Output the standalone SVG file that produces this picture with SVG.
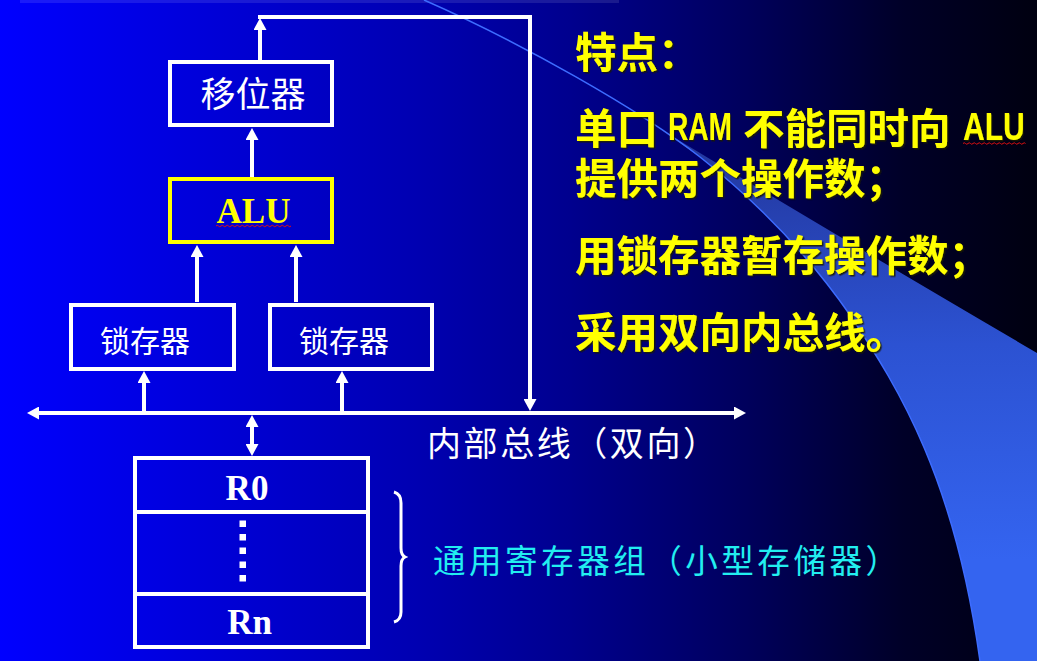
<svg xmlns="http://www.w3.org/2000/svg" width="1037" height="661" viewBox="0 0 1037 661">
  <defs>
    <linearGradient id="bg" x1="0" y1="0" x2="1037" y2="0" gradientUnits="userSpaceOnUse">
      <stop offset="0" stop-color="#0000ff"/>
      <stop offset="0.4" stop-color="#0000b2"/>
      <stop offset="0.55" stop-color="#00008e"/>
      <stop offset="0.72" stop-color="#00005c"/>
      <stop offset="0.87" stop-color="#000028"/>
      <stop offset="1" stop-color="#000010"/>
    </linearGradient>
    <linearGradient id="swoosh" x1="0" y1="130" x2="0" y2="560" gradientUnits="userSpaceOnUse">
      <stop offset="0" stop-color="#22359a"/>
      <stop offset="0.5" stop-color="#2c52d2"/>
      <stop offset="1" stop-color="#3464f0"/>
    </linearGradient>
    <marker id="ah" markerUnits="userSpaceOnUse" viewBox="0 0 12 13" refX="2" refY="6.5" markerWidth="12" markerHeight="13" orient="auto-start-reverse">
      <path d="M0,0 L12,6.5 L0,13 z" fill="#ffffff"/>
    </marker>
    <filter id="shade" x="-5%" y="-5%" width="110%" height="120%">
      <feDropShadow dx="1.5" dy="1.5" stdDeviation="0" flood-color="#1c1c00" flood-opacity="0.85"/>
    </filter>
    <style>
      .box { fill: none; stroke: #ffffff; stroke-width: 4; }
      .alu { fill: none; stroke: #ffff00; stroke-width: 4; }
      .wire { fill: none; stroke: #ffffff; stroke-width: 4; }
      .cn { font-family: "Noto Sans CJK SC", sans-serif; fill: #ffffff; dominant-baseline: central; }
      .lat { font-family: "Liberation Serif", serif; font-weight: bold; font-size: 35px; text-anchor: middle; }
      .note { font-family: "Noto Sans CJK SC", sans-serif; font-weight: bold; font-size: 41.5px; fill: #ffff00; dominant-baseline: central; filter: url(#shade); }
      .noteLat { font-family: "Liberation Sans", sans-serif; font-weight: bold; font-size: 38px; fill: #ffff00; filter: url(#shade); }
      .squiggle { fill: none; stroke: #e01010; stroke-width: 1; }
    </style>
  </defs>

  <!-- slide background -->
  <rect x="0" y="0" width="1037" height="661" fill="url(#bg)"/>
  <rect x="20" y="0" width="599" height="3" fill="#ffffff" opacity="0.1"/>

  <!-- decorative sweep on the right -->
  <path d="M657,127 Q805,217 1037,353 V661 H980 C955,480 900,390 850,315 C820,272 770,212 700,157 Z" fill="url(#swoosh)"/>
  <path d="M424,0 C520,42 640,110 700,157 C770,212 820,272 850,315 C900,390 955,480 980,661" fill="none" stroke="#3d6cff" stroke-width="1.5"/>

  <!-- connectors -->
  <g id="connectors">
    <!-- internal bus (bidirectional) -->
    <line class="wire" x1="37" y1="413" x2="736" y2="413" marker-start="url(#ah)" marker-end="url(#ah)"/>
    <!-- bus to latches -->
    <line class="wire" x1="144" y1="411" x2="144" y2="381" marker-end="url(#ah)"/>
    <line class="wire" x1="342" y1="411" x2="342" y2="381" marker-end="url(#ah)"/>
    <!-- latches to ALU -->
    <line class="wire" x1="197" y1="302" x2="197" y2="255" marker-end="url(#ah)"/>
    <line class="wire" x1="296" y1="302" x2="296" y2="255" marker-end="url(#ah)"/>
    <!-- ALU to shifter -->
    <line class="wire" x1="252" y1="177" x2="252" y2="138" marker-end="url(#ah)"/>
    <!-- shifter output back onto the bus -->
    <line class="wire" x1="260" y1="61" x2="260" y2="28" marker-end="url(#ah)"/>
    <path class="wire" d="M258,17 H530 V401" marker-end="url(#ah)"/>
    <!-- bus to register file (bidirectional) -->
    <line class="wire" x1="252" y1="425" x2="252" y2="446" marker-start="url(#ah)" marker-end="url(#ah)"/>
  </g>

  <!-- shifter -->
  <g id="node-shifter">
    <rect class="box" x="170" y="62" width="162" height="63"/>
    <text class="cn" x="253" y="91" font-size="35" text-anchor="middle">移位器</text>
  </g>

  <!-- ALU -->
  <g id="node-alu">
    <rect class="alu" x="170" y="179" width="162" height="63"/>
    <text class="lat" x="253.5" y="223" fill="#ffff00">ALU</text>
    <path class="squiggle" d="M216,226 q1.25,-1.5 2.5,0 t2.5,0 t2.5,0 t2.5,0 t2.5,0 t2.5,0 t2.5,0 t2.5,0 t2.5,0 t2.5,0 t2.5,0 t2.5,0 t2.5,0 t2.5,0 t2.5,0 t2.5,0 t2.5,0 t2.5,0 t2.5,0 t2.5,0 t2.5,0 t2.5,0 t2.5,0 t2.5,0 t2.5,0 t2.5,0 t2.5,0 t2.5,0 t2.5,0 t2.5,0"/>
  </g>

  <!-- operand latches -->
  <g id="node-latch-a">
    <rect class="box" x="71" y="305" width="163" height="64"/>
    <text class="cn" x="145" y="338.5" font-size="30" text-anchor="middle">锁存器</text>
  </g>
  <g id="node-latch-b">
    <rect class="box" x="270" y="305" width="162" height="64"/>
    <text class="cn" x="344" y="338.5" font-size="30" text-anchor="middle">锁存器</text>
  </g>

  <!-- general-purpose register file -->
  <g id="node-registers">
    <rect class="box" x="135" y="458" width="233" height="189"/>
    <line class="wire" x1="135" y1="512" x2="368" y2="512"/>
    <line class="wire" x1="135" y1="594" x2="368" y2="594"/>
    <text class="lat" x="247" y="500" fill="#ffffff">R0</text>
    <g fill="#ffffff">
      <rect x="239.5" y="520.5" width="6.5" height="6.5"/>
      <rect x="239.5" y="534" width="6.5" height="6.5"/>
      <rect x="239.5" y="547.5" width="6.5" height="6.5"/>
      <rect x="239.5" y="561.5" width="6.5" height="6.5"/>
      <rect x="239.5" y="575" width="6.5" height="6.5"/>
    </g>
    <text class="lat" x="249.5" y="634" fill="#ffffff">Rn</text>
  </g>

  <!-- bus caption -->
  <g id="label-bus">
    <text class="cn" x="427" y="441" font-size="34" textLength="290" lengthAdjust="spacing">内部总线（双向）</text>
  </g>

  <!-- register file caption with brace -->
  <g id="label-registers">
    <path d="M394,492 Q401,494 401,503 V548 Q401,555 405,557 Q401,559 401,566 V612 Q401,620 394,622" fill="none" stroke="#ffffff" stroke-width="3"/>
    <text class="cn" x="433" y="558.5" font-size="32.5" style="fill:#22eef0" textLength="465" lengthAdjust="spacing">通用寄存器组（小型存储器）</text>
  </g>

  <!-- notes -->
  <g id="notes">
    <text class="note" x="575" y="50">特点：</text>
    <text class="note" x="575" y="126">单口</text>
    <text class="noteLat" transform="translate(668,140) scale(0.74,1)">RAM</text>
    <text class="note" x="743" y="126">不能同时向</text>
    <text class="noteLat" transform="translate(963,140) scale(0.79,1)">ALU</text>
    <path class="squiggle" d="M963,143.5 q1.25,-1.5 2.5,0 t2.5,0 t2.5,0 t2.5,0 t2.5,0 t2.5,0 t2.5,0 t2.5,0 t2.5,0 t2.5,0 t2.5,0 t2.5,0 t2.5,0 t2.5,0 t2.5,0 t2.5,0 t2.5,0 t2.5,0 t2.5,0 t2.5,0 t2.5,0 t2.5,0 t2.5,0 t2.5,0 t2.5,0"/>
    <text class="note" x="575" y="176">提供两个操作数；</text>
    <text class="note" x="575" y="252.5">用锁存器暂存操作数；</text>
    <text class="note" x="575" y="330">采用双向内总线。</text>
  </g>
</svg>
